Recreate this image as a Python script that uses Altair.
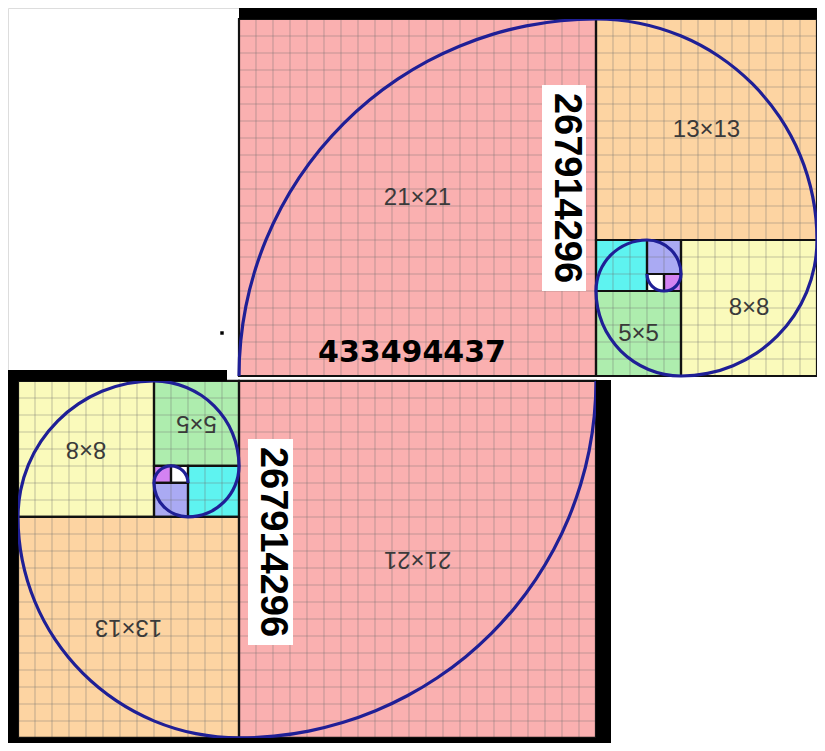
import math
import altair as alt
import pandas as pd

# ---------------- data ----------------
# Fibonacci squares in one rectangle (units, x to the right, y downward)
SQ_X0 = [0, 21, 26, 21, 21, 24, 25, 24]
SQ_Y0 = [0, 0, 13, 16, 13, 13, 15, 15]
SQ_SIZE = [21, 13, 8, 5, 3, 2, 1, 1]
SQ_COLOR = ["#FAB0B0", "#FDD4A2", "#FAFABB", "#AEEDAE", "#5EF3F0", "#AAAAF3", "#D382F2", "#FFFFFF"]
ARC_QUARTER = [3, 0, 1, 2, 3, 0, 1, 2]  # quarter of the turn each arc covers
SQ_LABEL = ["21×21", "13×13", "8×8", "5×5", "", "", "", ""]

# the two copies of the rectangle
FRAME_OX = [13.0, 0.0]
FRAME_OY = [0.0, 21.29]
FRAME_ROT = [0, 180]

NUM_TEXT = ["433494437", "267914296", "267914296"]

# ---------------- layout ----------------
U = 17.0                 # pixels per unit
W, H = 809, 735
ORIGIN = (18, 19)        # page pixel of unit (0, 0)
MARGIN = 8
RW, RH = 34, 21
XD = [(MARGIN - ORIGIN[0]) / U, (MARGIN + W - ORIGIN[0]) / U]
YD = [(MARGIN - ORIGIN[1]) / U, (MARGIN + H - ORIGIN[1]) / U]


def place(f, x, y):
    if FRAME_ROT[f] == 180:
        x, y = RW - x, RH - y
    return FRAME_OX[f] + x, FRAME_OY[f] + y


sq_rows, arc_rows, grid_rows, lab_rows = [], [], [], []
for f in range(2):
    for x0, y0, s, c, q, lab in zip(SQ_X0, SQ_Y0, SQ_SIZE, SQ_COLOR, ARC_QUARTER, SQ_LABEL):
        ax, ay = place(f, x0, y0)
        bx, by = place(f, x0 + s, y0 + s)
        sq_rows.append(dict(x=min(ax, bx), x2=max(ax, bx), y=min(ay, by), y2=max(ay, by), color=c))
        corner = {0: (x0, y0 + s), 1: (x0, y0), 2: (x0 + s, y0), 3: (x0 + s, y0 + s)}[q]
        cx, cy = place(f, *corner)
        qq = (q + FRAME_ROT[f] // 90) % 4
        arc_rows.append(dict(cx=cx, cy=cy, t0=qq * math.pi / 2, t1=(qq + 1) * math.pi / 2,
                             ro=s + 1.6 / U, ri=s - 1.6 / U))
        if lab:
            lx, ly = place(f, x0 + s / 2, y0 + s / 2)
            lab_rows.append(dict(x=lx, y=ly, text=lab, ang=FRAME_ROT[f]))
    for gx in range(1, RW):
        (a, b), (c2, d) = place(f, gx, 0), place(f, gx, RH)
        grid_rows.append(dict(x=a, y=b, x2=c2, y2=d))
    for gy in range(1, RH):
        (a, b), (c2, d) = place(f, 0, gy), place(f, RW, gy)
        grid_rows.append(dict(x=a, y=b, x2=c2, y2=d))

sq = pd.DataFrame(sq_rows)
arcs = pd.DataFrame(arc_rows)
grid = pd.DataFrame(grid_rows)
labs = pd.DataFrame(lab_rows)


def px(xp):
    return (xp - ORIGIN[0]) / U


def py(yp):
    return (yp - ORIGIN[1]) / U


# thick black frame bands (page pixels converted to units)
bands = pd.DataFrame([
    dict(x=px(239), x2=px(817), y=py(5), y2=py(19)),
    dict(x=px(7), x2=px(18), y=py(370), y2=py(760)),
    dict(x=px(7), x2=px(227), y=py(370), y2=py(381)),
    dict(x=px(7), x2=px(611), y=py(738), y2=py(760)),
    dict(x=px(596), x2=px(611), y=py(380), y2=py(760)),
])

boxes = pd.DataFrame([
    dict(x=px(542), x2=px(586), y=py(85), y2=py(291)),
    dict(x=px(248), x2=px(293), y=py(439), y2=py(645)),
])
vnums = pd.DataFrame([
    dict(x=px(566), y=py(188), text=NUM_TEXT[1]),
    dict(x=px(272), y=py(542), text=NUM_TEXT[2]),
])
hnum = pd.DataFrame([dict(x=px(412), y=py(353), text=NUM_TEXT[0])])
dot = pd.DataFrame([dict(x=px(222), y=py(333))])

xs = alt.Scale(domain=XD, nice=False, zero=False)
ys = alt.Scale(domain=YD, nice=False, zero=False, reverse=True)
X = lambda f: alt.X(f, type="quantitative", scale=xs, axis=None)
Y = lambda f: alt.Y(f, type="quantitative", scale=ys, axis=None)

fills = alt.Chart(sq).mark_rect(strokeWidth=0).encode(
    x=X("x"), x2="x2", y=Y("y"), y2="y2",
    fill=alt.Fill("color:N", scale=None))

grid_l = alt.Chart(grid).mark_rule(color="#707070", opacity=0.4, strokeWidth=1.1).encode(
    x=X("x"), x2="x2", y=Y("y"), y2="y2")

borders = alt.Chart(sq).mark_rect(fillOpacity=0, stroke="#111111", strokeWidth=2.2).encode(
    x=X("x"), x2="x2", y=Y("y"), y2="y2")

spiral = alt.Chart(arcs).mark_arc(color="#1f1f96").encode(
    x=X("cx"), y=Y("cy"),
    theta=alt.Theta("t0:Q", scale=None, stack=None), theta2="t1",
    radius=alt.Radius("ro:Q", scale=alt.Scale(type="linear", domain=[0, 10], range=[0, 10 * U], zero=True)),
    radius2="ri")

band_l = alt.Chart(bands).mark_rect(color="#000000").encode(
    x=X("x"), x2="x2", y=Y("y"), y2="y2")

box_l = alt.Chart(boxes).mark_rect(color="#ffffff").encode(
    x=X("x"), x2="x2", y=Y("y"), y2="y2")

labels = alt.Chart(labs).mark_text(font="Liberation Sans", fontSize=24, color="#3a3a3a",
                                   align="center", baseline="middle").encode(
    x=X("x"), y=Y("y"), text="text:N", angle=alt.Angle("ang:Q", scale=None))

vtext = alt.Chart(vnums).mark_text(font="Liberation Sans", fontWeight="bold", fontSize=38,
                                   color="#000000", angle=90, align="center",
                                   baseline="middle").encode(
    x=X("x"), y=Y("y"), text="text:N")

htext = alt.Chart(hnum).mark_text(font="DejaVu Sans", fontWeight="bold", fontSize=30,
                                  color="#000000", align="center", baseline="middle").encode(
    x=X("x"), y=Y("y"), text="text:N")

dot_l = alt.Chart(dot).mark_square(color="#000000", size=12, opacity=1).encode(
    x=X("x"), y=Y("y"))

chart = alt.layer(fills, grid_l, borders, spiral, band_l, box_l, labels, vtext, htext, dot_l).properties(
    width=W, height=H, padding=0, autosize=alt.AutoSizeParams(type="none")
).configure_view(stroke=None, strokeWidth=0).configure(background="transparent")

chart.save("out.html", embed_options={"renderer": "svg", "actions": False})
